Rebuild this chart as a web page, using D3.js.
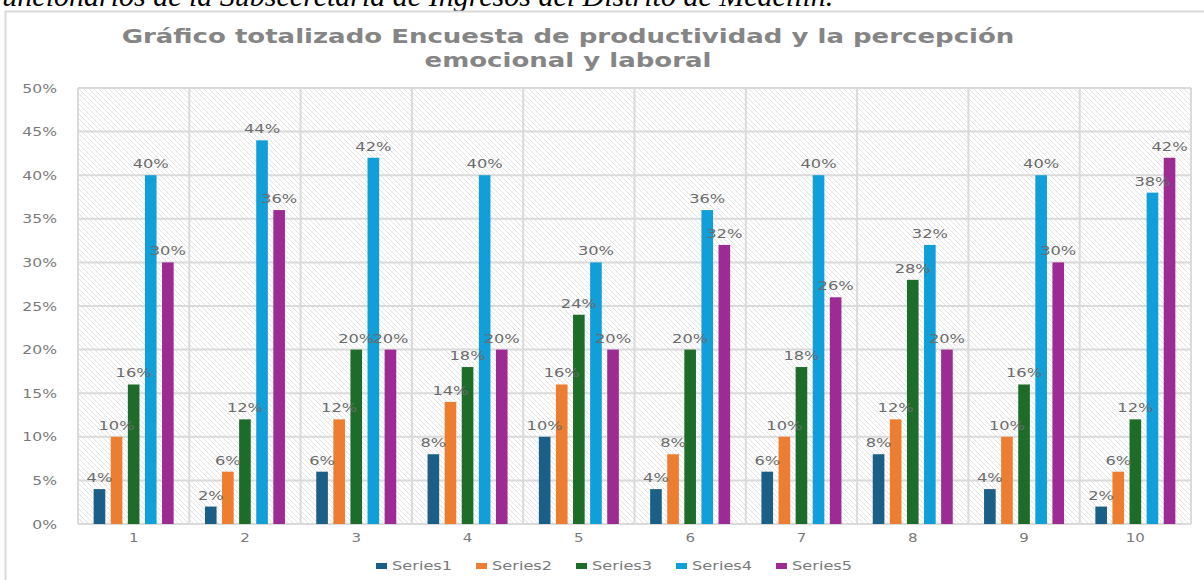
<!DOCTYPE html>
<html>
<head>
<meta charset="utf-8">
<script src="https://cdn.jsdelivr.net/npm/d3@7"></script>
<style>
  body { margin: 0; background: #fff; }
  svg { display: block; }
</style>
</head>
<body>
<div id="chart"></div>
<script>
// values (fractions)
const categories = ['1', '2', '3', '4', '5', '6', '7', '8', '9', '10'];
const seriesNames = ['Series1', 'Series2', 'Series3', 'Series4', 'Series5'];
const series1 = [0.04, 0.02, 0.06, 0.08, 0.10, 0.04, 0.06, 0.08, 0.04, 0.02];
const series2 = [0.10, 0.06, 0.12, 0.14, 0.16, 0.08, 0.10, 0.12, 0.10, 0.06];
const series3 = [0.16, 0.12, 0.20, 0.18, 0.24, 0.20, 0.18, 0.28, 0.16, 0.12];
const series4 = [0.40, 0.44, 0.42, 0.40, 0.30, 0.36, 0.40, 0.32, 0.40, 0.38];
const series5 = [0.30, 0.36, 0.20, 0.20, 0.20, 0.32, 0.26, 0.20, 0.30, 0.42];
const yTicks = [0, 0.05, 0.10, 0.15, 0.20, 0.25, 0.30, 0.35, 0.40, 0.45, 0.50];
const colors = ['#1b5e86', '#ed7d31', '#1d6c2a', '#109fd8', '#9d2b94'];

const allSeries = [series1, series2, series3, series4, series5];

const W = 1204, H = 580;
const plot = { left: 78, right: 1191, top: 88, bottom: 524 };
const sx = 1.25; // the original picture is stretched sideways

const svg = d3.select('#chart').append('svg')
  .attr('width', W)
  .attr('height', H);

// hatch fill of the plot area
const pat = svg.append('defs').append('pattern')
  .attr('id', 'hatch')
  .attr('patternUnits', 'userSpaceOnUse')
  .attr('width', 5)
  .attr('height', 5);
pat.append('rect').attr('width', 5).attr('height', 5).attr('fill', '#fff');
pat.append('path')
  .attr('d', 'M-1,-1 L6,6 M-1,4 L1,6 M4,-1 L6,1')
  .attr('stroke', '#e3e3e3')
  .attr('stroke-width', 1);

// helper: text squeezed wide like the source
function wideText(g, x, y, str, opts) {
  const t = g.append('text')
    .attr('transform', `translate(${x},${y}) scale(${opts.sx || sx},1)`)
    .attr('text-anchor', opts.anchor || 'middle')
    .attr('font-family', opts.family || 'DejaVu Sans, sans-serif')
    .attr('font-size', opts.size || 12)
    .attr('fill', opts.fill || '#6b6b6b')
    .text(str);
  if (opts.weight) t.attr('font-weight', opts.weight);
  if (opts.style) t.attr('font-style', opts.style);
  return t;
}

// caption cut at the top of the page
svg.append('text')
  .attr('x', -6)
  .attr('y', 6)
  .attr('font-family', 'Liberation Serif, serif')
  .attr('font-style', 'italic')
  .attr('font-size', 30)
  .attr('fill', '#000')
  .text('funcionarios de la Subsecretaría de Ingresos del Distrito de Medellín.');

// outer frame of the chart object
svg.append('path')
  .attr('d', `M5.5,${H} L5.5,11.5 L${W},11.5`)
  .attr('fill', 'none')
  .attr('stroke', '#d9d9d9')
  .attr('stroke-width', 2);

// title
const titleG = svg.append('g');
wideText(titleG, 568, 43, 'Gráfico totalizado Encuesta de productividad y la percepción',
  { size: 20, weight: 'bold', fill: '#858585', sx: 1.3 });
wideText(titleG, 568, 67, 'emocional y laboral',
  { size: 20, weight: 'bold', fill: '#858585', sx: 1.3 });

const x0 = d3.scaleBand()
  .domain(categories)
  .range([plot.left, plot.right]);

const x1 = d3.scaleBand()
  .domain(seriesNames)
  .range([x0.bandwidth() / 2 - 40, x0.bandwidth() / 2 + 40])
  .paddingInner(0.32);

const y = d3.scaleLinear()
  .domain([0, 0.5])
  .range([plot.bottom, plot.top]);

svg.append('rect')
  .attr('x', plot.left)
  .attr('y', plot.top)
  .attr('width', plot.right - plot.left)
  .attr('height', plot.bottom - plot.top)
  .attr('fill', 'url(#hatch)');

// gridlines
const grid = svg.append('g');
grid.selectAll('line.h')
  .data(yTicks)
  .join('line')
  .attr('class', 'h')
  .attr('x1', plot.left)
  .attr('x2', plot.right)
  .attr('y1', d => y(d))
  .attr('y2', d => y(d))
  .attr('stroke', '#dadada')
  .attr('stroke-width', 2);

const vEdges = categories.map(c => x0(c)).concat([plot.right]);
grid.selectAll('line.v')
  .data(vEdges)
  .join('line')
  .attr('class', 'v')
  .attr('x1', d => d)
  .attr('x2', d => d)
  .attr('y1', plot.top)
  .attr('y2', plot.bottom)
  .attr('stroke', '#dadada')
  .attr('stroke-width', 2);

// y tick labels
const yAxisG = svg.append('g');
yTicks.forEach(t => {
  wideText(yAxisG, 57, y(t) + 4.5, d3.format('.0%')(t), { size: 12.5, anchor: 'end', fill: '#7a7a7a' });
});

// x tick labels
const xAxisG = svg.append('g');
categories.forEach(c => {
  wideText(xAxisG, x0(c) + x0.bandwidth() / 2, 542, c, { size: 12, fill: '#7a7a7a' });
});

// bars
const groups = svg.append('g').selectAll('g')
  .data(categories)
  .join('g')
  .attr('transform', d => `translate(${x0(d)},0)`);

groups.selectAll('rect')
  .data((c, i) => seriesNames.map((s, k) => ({ s, k, v: allSeries[k][i] })))
  .join('rect')
  .attr('x', d => x1(d.s))
  .attr('width', x1.bandwidth())
  .attr('y', d => y(d.v))
  .attr('height', d => y(0) - y(d.v))
  .attr('fill', d => colors[d.k]);

// data labels
const labelG = svg.append('g');
categories.forEach((c, i) => {
  seriesNames.forEach((s, k) => {
    const v = allSeries[k][i];
    wideText(labelG, x0(c) + x1(s) + x1.bandwidth() / 2, y(v) - 7,
      d3.format('.0%')(v), { size: 13, fill: '#6b6b6b' });
  });
});

// legend
const legend = svg.append('g');
seriesNames.forEach((s, k) => {
  const lx = 376 + k * 100;
  legend.append('rect')
    .attr('x', lx)
    .attr('y', 563)
    .attr('width', 11)
    .attr('height', 6)
    .attr('fill', colors[k]);
  wideText(legend, lx + 16, 570, s, { size: 12, anchor: 'start', fill: '#7a7a7a', sx: 1.35 });
});
</script>
</body>
</html>
